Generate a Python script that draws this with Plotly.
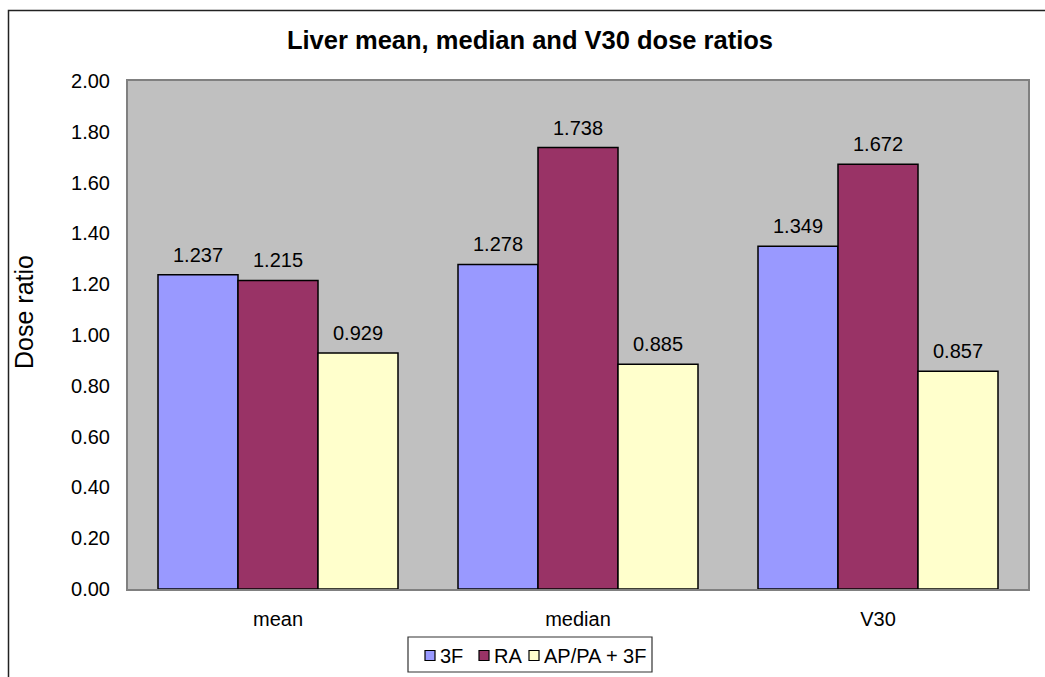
import plotly.graph_objects as go

categories = ["mean", "median", "V30"]
series_names = ["3F", "RA", "AP/PA + 3F"]
values_3f = [1.237, 1.278, 1.349]
values_ra = [1.215, 1.738, 1.672]
values_appa = [0.929, 0.885, 0.857]
colors = ["#9999FF", "#993366", "#FFFFCC"]
y_ticks = [0.0, 0.2, 0.4, 0.6, 0.8, 1.0, 1.2, 1.4, 1.6, 1.8, 2.0]

W, H = 1045, 677
L, R, T, B = 128, 17, 81, 88
pw, ph = W - L - R, H - T - B
BAR_PX = pw / len(categories) * 0.8 / len(series_names)

font_family = "Liberation Sans, Arial, sans-serif"
FS = 20


def px_x(p):
    return (p - L) / pw


def px_y(p):
    return (H - B - p) / ph


fig = go.Figure()
all_values = [values_3f, values_ra, values_appa]
for name, vals, col in zip(series_names, all_values, colors):
    fig.add_trace(go.Bar(
        x=categories, y=vals, name=name,
        marker=dict(color=col, line=dict(color="black", width=1.5)),
        showlegend=False,
    ))

# value labels above each bar
for i, vals in enumerate(all_values):
    offset = (i - (len(series_names) - 1) / 2) * BAR_PX
    for cat, v in zip(categories, vals):
        fig.add_annotation(x=cat, y=v, xref="x", yref="y", text=f"{v:.3f}",
                           showarrow=False, xshift=offset, yshift=20,
                           yanchor="middle", xanchor="center",
                           font=dict(size=FS, color="black", family=font_family))

# outer chart frame
fig.add_shape(type="rect", xref="paper", yref="paper",
              x0=px_x(8.5), x1=px_x(1060), y0=px_y(690), y1=px_y(10.5),
              line=dict(color="#222222", width=1.5), fillcolor="rgba(0,0,0,0)",
              layer="below")

# legend box with small square swatches
fig.add_shape(type="rect", xref="paper", yref="paper",
              x0=px_x(408), x1=px_x(652), y0=px_y(672), y1=px_y(637),
              line=dict(color="#333333", width=1.2), fillcolor="white")
swatch_x = [425, 479, 529]
for sx, name, col in zip(swatch_x, series_names, colors):
    fig.add_shape(type="rect", xref="paper", yref="paper",
                  x0=px_x(sx), x1=px_x(sx + 10), y0=px_y(660.5), y1=px_y(650.5),
                  line=dict(color="black", width=1.2), fillcolor=col)
    fig.add_annotation(x=px_x(sx + 13), y=px_y(655.5), xref="paper", yref="paper",
                       text=name, showarrow=False, xanchor="left", yanchor="middle",
                       font=dict(size=FS, color="black", family=font_family))

# y axis title
fig.add_annotation(x=px_x(24), y=px_y(312), xref="paper", yref="paper",
                   text="Dose ratio", textangle=-90, showarrow=False,
                   xanchor="center", yanchor="middle",
                   font=dict(size=25, color="black", family=font_family))

fig.update_layout(
    width=W, height=H,
    margin=dict(l=L, r=R, t=T, b=B),
    paper_bgcolor="white", plot_bgcolor="#C0C0C0",
    barmode="group", bargap=0.2, bargroupgap=0,
    font=dict(family=font_family, size=FS, color="black"),
    title=dict(text="<b>Liver mean, median and V30 dose ratios</b>",
               x=530 / W, xanchor="center", y=1 - 40 / H, yanchor="middle",
               font=dict(size=25.5, family=font_family, color="black")),
    showlegend=False,
    xaxis=dict(showline=True, mirror=True, linecolor="#808080", linewidth=2,
               ticks="", tickfont=dict(size=FS), ticklabelstandoff=11),
    yaxis=dict(range=[0, 2.0], tickvals=y_ticks,
               ticktext=[f"{v:.2f}" for v in y_ticks],
               showgrid=False, zeroline=False,
               showline=True, mirror=True, linecolor="#808080", linewidth=2,
               ticks="", ticklabelstandoff=12, tickfont=dict(size=FS)),
)

fig.write_html("out.html")
